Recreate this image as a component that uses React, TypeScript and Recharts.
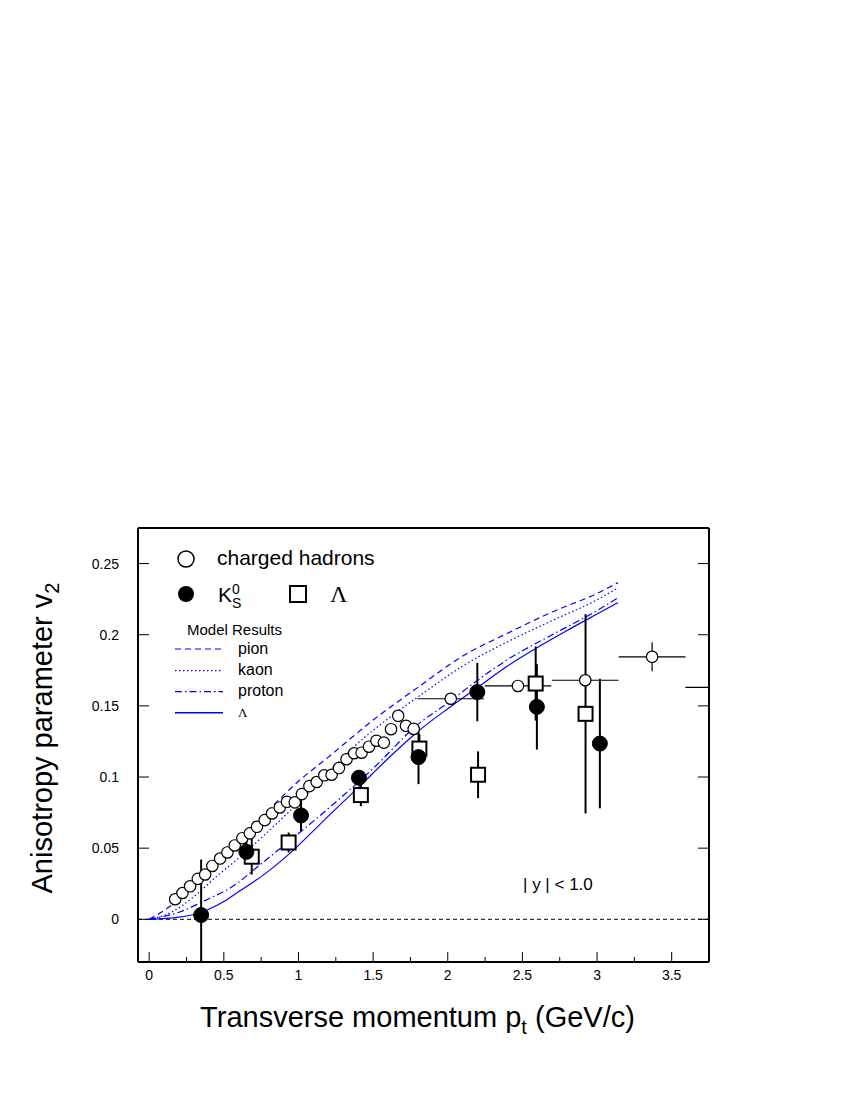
import {
  ComposedChart,
  ErrorBar,
  Line,
  ReferenceLine,
  Scatter,
  XAxis,
  YAxis,
} from "recharts";

// charged hadrons (open circles)
const chPt = [
  0.174, 0.223, 0.274, 0.326, 0.375, 0.423, 0.475, 0.524, 0.573, 0.624, 0.674,
  0.722, 0.774, 0.823, 0.875, 0.923, 0.975, 1.023, 1.073, 1.122, 1.173, 1.222,
  1.271, 1.322, 1.373, 1.423, 1.472, 1.522, 1.572, 1.62, 1.668, 1.72, 1.772,
  2.02, 2.47, 2.921, 3.369, 3.816,
];
const chV2 = [
  0.0141, 0.0185, 0.0232, 0.0284, 0.0315, 0.0375, 0.0427, 0.047, 0.0519, 0.057,
  0.0604, 0.065, 0.0697, 0.0744, 0.0786, 0.0826, 0.0822, 0.088, 0.0936, 0.0965,
  0.1012, 0.1016, 0.1063, 0.1125, 0.1167, 0.1171, 0.1213, 0.1255, 0.1242,
  0.1336, 0.143, 0.136, 0.1338, 0.155, 0.164, 0.168, 0.1845, 0.163,
];
const chPtErr = [
  0, 0, 0, 0, 0, 0, 0, 0, 0, 0, 0, 0, 0, 0, 0, 0, 0, 0, 0, 0, 0, 0, 0, 0, 0, 0,
  0, 0, 0, 0, 0, 0, 0, 0.223, 0.223, 0.223, 0.224, 0.224,
];
const chV2Err = [
  0, 0, 0, 0, 0, 0, 0, 0, 0, 0, 0, 0, 0, 0, 0, 0, 0, 0, 0, 0, 0, 0, 0, 0, 0, 0,
  0, 0, 0, 0, 0, 0, 0, 0, 0, 0, 0.0102, 0,
];

// K0s (filled circles)
const k0Pt = [0.348, 0.651, 1.017, 1.405, 1.804, 2.198, 2.597, 3.019];
const k0V2 = [0.003, 0.0474, 0.073, 0.0995, 0.114, 0.1597, 0.1493, 0.1235];
const k0Err = [0.039, 0.008, 0.011, 0.005, 0.019, 0.0205, 0.03, 0.0455];

// Lambda (open squares)
const laPt = [0.687, 0.934, 1.418, 1.81, 2.203, 2.589, 2.923];
const laV2 = [0.044, 0.054, 0.0873, 0.12, 0.1016, 0.1657, 0.1444];
const laErr = [0.0125, 0.007, 0.0078, 0.01, 0.0164, 0.026, 0.07];

// model curves
const pionPt = [0, 0.15, 0.3, 0.45, 0.6, 0.8, 1.0, 1.2, 1.5, 1.8, 2.1, 2.4, 2.7, 3.0, 3.14];
const pionV2 = [0, 0.01, 0.025, 0.041, 0.057, 0.077, 0.097, 0.114, 0.14, 0.163, 0.185, 0.201, 0.216, 0.229, 0.2366];
const kaonPt = [0, 0.15, 0.3, 0.45, 0.6, 0.8, 1.0, 1.2, 1.4, 1.6, 1.85, 2.1, 2.4, 2.7, 3.0, 3.14];
const kaonV2 = [0, 0.005, 0.016, 0.03, 0.043, 0.062, 0.082, 0.103, 0.124, 0.141, 0.16, 0.178, 0.195, 0.21, 0.2245, 0.2329];
const protonPt = [0, 0.2, 0.4, 0.55, 0.75, 0.95, 1.1, 1.3, 1.5, 1.8, 2.0, 2.2, 2.4, 2.7, 3.0, 3.14];
const protonV2 = [0, 0.005, 0.0145, 0.0225, 0.039, 0.056, 0.069, 0.087, 0.106, 0.137, 0.152, 0.168, 0.1825, 0.2, 0.217, 0.226];
const lambdaPt = [0, 0.2, 0.35, 0.5, 0.6, 0.75, 0.9, 1.0, 1.2, 1.4, 1.6, 1.8, 2.0, 2.2, 2.4, 2.6, 2.8, 3.0, 3.14];
const lambdaV2 = [0, 0.0015, 0.005, 0.0125, 0.0195, 0.03, 0.0425, 0.052, 0.0725, 0.0925, 0.113, 0.132, 0.148, 0.163, 0.178, 0.191, 0.203, 0.2145, 0.2225];

const xTicks = [0, 0.25, 0.5, 0.75, 1, 1.25, 1.5, 1.75, 2, 2.25, 2.5, 2.75, 3, 3.25, 3.5];
const yTicks = [0, 0.05, 0.1, 0.15, 0.2, 0.25];

const FONT = "'Liberation Sans', Arial, Helvetica, sans-serif";
const SERIF = "'Liberation Serif', 'Times New Roman', serif";
const BLUE = "#0000ff";

const toCurve = (xs: number[], ys: number[]) => xs.map((pt, i) => ({ pt, v2: ys[i] }));

const chargedData = chPt.map((pt, i) => ({ pt, v2: chV2[i], ex: chPtErr[i], ey: chV2Err[i] }));
const k0Data = k0Pt.map((pt, i) => ({ pt, v2: k0V2[i], ey: k0Err[i] }));
const laData = laPt.map((pt, i) => ({ pt, v2: laV2[i], ey: laErr[i] }));

const isMajor = (v: number) => Math.abs(v * 2 - Math.round(v * 2)) < 1e-6;

const X_LABEL_GAP = 18;

function BottomTick(props: any) {
  const { x, y, payload } = props;
  const v = payload.value;
  const axisY = y - X_LABEL_GAP;
  const major = isMajor(v);
  return (
    <g>
      <line x1={x} x2={x} y1={axisY} y2={axisY - (major ? 10 : 5)} stroke="#000" strokeWidth={1} />
      {major && (
        <text x={x} y={y} textAnchor="middle" fontSize={14} fontFamily={FONT} fill="#000">
          {String(v)}
        </text>
      )}
    </g>
  );
}

function TopTick(props: any) {
  const { x, y, payload } = props;
  const major = isMajor(payload.value);
  return <line x1={x} x2={x} y1={y} y2={y + (major ? 10 : 5)} stroke="#000" strokeWidth={1} />;
}

function LeftTick(props: any) {
  const { x, y, payload } = props;
  const axisX = x + 19;
  return (
    <g>
      <line x1={axisX} x2={axisX + 11} y1={y} y2={y} stroke="#000" strokeWidth={1} />
      <text x={x} y={y + 5} textAnchor="end" fontSize={14} fontFamily={FONT} fill="#000">
        {String(payload.value)}
      </text>
    </g>
  );
}

function RightTick(props: any) {
  const { x, y } = props;
  return <line x1={x} x2={x - 11} y1={y} y2={y} stroke="#000" strokeWidth={1} />;
}

const openCircle = (p: any) => (
  <circle cx={p.cx} cy={p.cy} r={5.7} fill="#fff" stroke="#000" strokeWidth={1.2} />
);
const filledCircle = (p: any) => <circle cx={p.cx} cy={p.cy} r={7.5} fill="#000" stroke="#000" />;
const openSquare = (p: any) => (
  <rect x={p.cx - 7} y={p.cy - 7} width={14} height={14} fill="#fff" stroke="#000" strokeWidth={2} />
);

const axisLine = { stroke: "#000", strokeWidth: 2 };

// chart svg size and plot frame inside it
const M = { top: 500, right: 113, bottom: 66, left: 70 };
const W = 834;
const H = 1060;
const PLOT = { x: 130, y: 520, w: 571, h: 434 };

// error bars are plain <line>s; keep them inside the frame
const clipCss =
  ".recharts-surface line:not(.recharts-cartesian-axis-line) { clip-path: url(#plotClip); }";

export default function App() {
  return (
    <div style={{ position: "relative", width: W, height: H }}>
      <style>{clipCss}</style>
      <svg width={0} height={0} style={{ position: "absolute" }}>
        <defs>
          <clipPath id="plotClip" clipPathUnits="userSpaceOnUse">
            <rect x={PLOT.x} y={PLOT.y} width={PLOT.w} height={PLOT.h} />
          </clipPath>
        </defs>
      </svg>
      <ComposedChart width={W} height={H} margin={M}>
        <XAxis
          dataKey="pt"
          type="number"
          domain={[-0.075, 3.75]}
          allowDataOverflow
          ticks={xTicks}
          interval={0}
          tickSize={0}
          tickMargin={X_LABEL_GAP}
          height={40}
          axisLine={axisLine}
          tickLine={false}
          tick={<BottomTick />}
        />
        <XAxis
          xAxisId="top"
          orientation="top"
          type="number"
          domain={[-0.075, 3.75]}
          allowDataOverflow
          ticks={xTicks}
          interval={0}
          tickSize={0}
          tickMargin={0}
          height={20}
          axisLine={axisLine}
          tickLine={false}
          tick={<TopTick />}
        />
        <YAxis
          type="number"
          domain={[-0.03, 0.275]}
          allowDataOverflow
          ticks={yTicks}
          interval={0}
          tickSize={0}
          tickMargin={19}
          width={60}
          axisLine={axisLine}
          tickLine={false}
          tick={<LeftTick />}
        />
        <YAxis
          yAxisId="right"
          orientation="right"
          type="number"
          domain={[-0.03, 0.275]}
          allowDataOverflow
          ticks={yTicks}
          interval={0}
          tickSize={0}
          tickMargin={0}
          width={20}
          axisLine={axisLine}
          tickLine={false}
          tick={<RightTick />}
        />
        <ReferenceLine y={0} stroke="#000" strokeWidth={1} strokeDasharray="4 3" />
        <Line data={toCurve(pionPt, pionV2)} dataKey="v2" type="monotone" stroke={BLUE} strokeWidth={1.2} strokeDasharray="6 4" dot={false} isAnimationActive={false} />
        <Line data={toCurve(kaonPt, kaonV2)} dataKey="v2" type="monotone" stroke={BLUE} strokeWidth={1.2} strokeDasharray="1.5 2.5" dot={false} isAnimationActive={false} />
        <Line data={toCurve(protonPt, protonV2)} dataKey="v2" type="monotone" stroke={BLUE} strokeWidth={1.2} strokeDasharray="7 3 1.5 3" dot={false} isAnimationActive={false} />
        <Line data={toCurve(lambdaPt, lambdaV2)} dataKey="v2" type="monotone" stroke={BLUE} strokeWidth={1.2} dot={false} isAnimationActive={false} />
        <Scatter data={chargedData} dataKey="v2" shape={openCircle} isAnimationActive={false}>
          <ErrorBar dataKey="ex" direction="x" width={0} stroke="#000" strokeWidth={1.2} />
          <ErrorBar dataKey="ey" direction="y" width={0} stroke="#000" strokeWidth={1.2} />
        </Scatter>
        <Scatter data={laData} dataKey="v2" shape={openSquare} isAnimationActive={false}>
          <ErrorBar dataKey="ey" direction="y" width={0} stroke="#000" strokeWidth={2} />
        </Scatter>
        <Scatter data={k0Data} dataKey="v2" shape={filledCircle} isAnimationActive={false}>
          <ErrorBar dataKey="ey" direction="y" width={0} stroke="#000" strokeWidth={2} />
        </Scatter>
      </ComposedChart>
      <svg
        width={W}
        height={H}
        style={{ position: "absolute", left: 0, top: 0, pointerEvents: "none" }}
        fontFamily={FONT}
      >
        <circle cx={178} cy={551} r={8} fill="#fff" stroke="#000" strokeWidth={1.5} />
        <text x={209} y={557} fontSize={21}>charged hadrons</text>
        <circle cx={178} cy={586} r={8} fill="#000" />
        <text x={210} y={594} fontSize={21}>K</text>
        <text x={224} y={586} fontSize={14}>0</text>
        <text x={224} y={600} fontSize={14}>S</text>
        <rect x={282} y={578} width={16} height={16} fill="#fff" stroke="#000" strokeWidth={2} />
        <text x={322} y={594} fontSize={24} fontFamily={SERIF}>Λ</text>
        <text x={179} y={627} fontSize={15}>Model Results</text>
        <line x1={167} x2={215} y1={641} y2={641} stroke={BLUE} strokeWidth={1.2} strokeDasharray="6 4" />
        <text x={230} y={646} fontSize={16}>pion</text>
        <line x1={167} x2={215} y1={662.7} y2={662.7} stroke={BLUE} strokeWidth={1.2} strokeDasharray="1.5 2.5" />
        <text x={230} y={667} fontSize={16}>kaon</text>
        <line x1={167} x2={215} y1={683.7} y2={683.7} stroke={BLUE} strokeWidth={1.2} strokeDasharray="7 3 1.5 3" />
        <text x={230} y={688} fontSize={16}>proton</text>
        <line x1={167} x2={215} y1={704.7} y2={704.7} stroke={BLUE} strokeWidth={1.5} />
        <text x={230} y={709} fontSize={13} fontFamily={SERIF}>Λ</text>
        <text x={515} y={882} fontSize={17}>| y | &lt; 1.0</text>
        <text x={409.5} y={1019} textAnchor="middle" fontSize={29}>
          Transverse momentum p<tspan dy={7} fontSize={20}>t</tspan>
          <tspan dy={-7}> (GeV/c)</tspan>
        </text>
        <text x={44} y={730} textAnchor="middle" fontSize={29} transform="rotate(-90, 44, 730)">
          Anisotropy parameter v<tspan dy={7} fontSize={20}>2</tspan>
        </text>
      </svg>
    </div>
  );
}
